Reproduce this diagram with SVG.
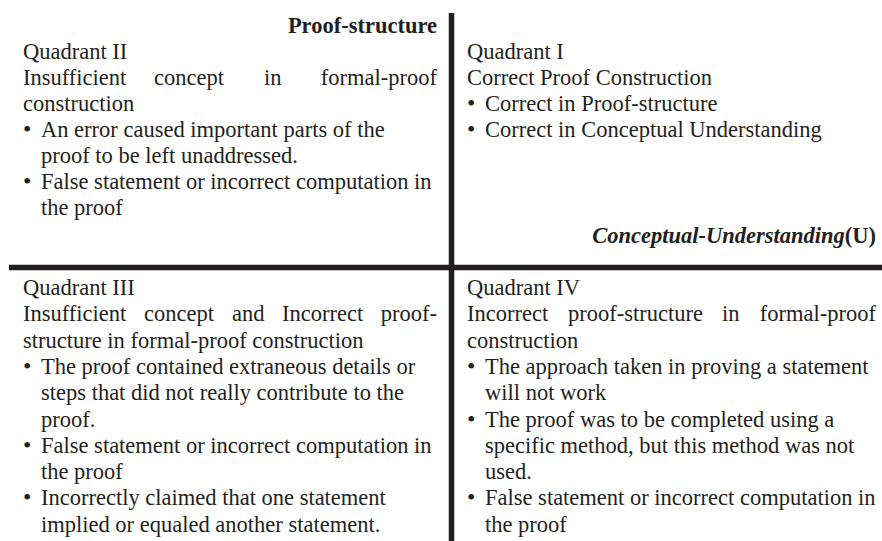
<svg xmlns="http://www.w3.org/2000/svg" width="882" height="541" viewBox="0 0 882 541">
<style>
text{font-family:"Liberation Serif","Times New Roman",serif;font-size:22.5px;fill:#231f20}
.b{font-weight:bold}
.bi{font-weight:bold;font-style:italic}
.e{text-anchor:end}
.bul{font-size:24px}
.axis{stroke:#231f20;stroke-width:5.5;fill:none}
</style>
<rect width="882" height="541" fill="#fff"/>
<g id="axes">
<line class="axis" x1="451.5" y1="13" x2="451.5" y2="541"/>
<line class="axis" x1="9" y1="267.5" x2="882" y2="267.5"/>
</g>
<g id="axis-labels">
<text class="b e" x="437" y="33">Proof-structure</text>
<text class="e" x="876" y="243"><tspan class="bi">Conceptual-Understanding</tspan><tspan class="b">(U)</tspan></text>
</g>
<g id="quadrant-2">
<text x="23" y="59">Quadrant II</text>
<text y="85"><tspan x="23">Insufficient</tspan><tspan x="154">concept</tspan><tspan x="264">in</tspan><tspan x="437" text-anchor="end">formal-proof</tspan></text>
<text x="23" y="111">construction</text>
<text x="23" y="137"><tspan class="bul">•</tspan><tspan x="41">An error caused important parts of the</tspan></text>
<text x="41" y="163">proof to be left unaddressed.</text>
<text x="23" y="189"><tspan class="bul">•</tspan><tspan x="41">False statement or incorrect computation in</tspan></text>
<text x="41" y="215">the proof</text>
</g>
<g id="quadrant-1">
<text x="467" y="59">Quadrant I</text>
<text x="467" y="85">Correct Proof Construction</text>
<text x="467" y="111"><tspan class="bul">•</tspan><tspan x="485">Correct in Proof-structure</tspan></text>
<text x="467" y="137"><tspan class="bul">•</tspan><tspan x="485">Correct in Conceptual Understanding</tspan></text>
</g>
<g id="quadrant-3">
<text x="23" y="295">Quadrant III</text>
<text y="321.3"><tspan x="23">Insufficient</tspan><tspan x="144">concept</tspan><tspan x="232">and</tspan><tspan x="282">Incorrect</tspan><tspan x="437" text-anchor="end">proof-</tspan></text>
<text x="23" y="347.6">structure in formal-proof construction</text>
<text x="23" y="373.9"><tspan class="bul">•</tspan><tspan x="41">The proof contained extraneous details or</tspan></text>
<text x="41" y="400.2">steps that did not really contribute to the</text>
<text x="41" y="426.5">proof.</text>
<text x="23" y="452.8"><tspan class="bul">•</tspan><tspan x="41">False statement or incorrect computation in</tspan></text>
<text x="41" y="479.1">the proof</text>
<text x="23" y="505.4"><tspan class="bul">•</tspan><tspan x="41">Incorrectly claimed that one statement</tspan></text>
<text x="41" y="531.7">implied or equaled another statement.</text>
</g>
<g id="quadrant-4">
<text x="467" y="295">Quadrant IV</text>
<text y="321.3"><tspan x="467">Incorrect</tspan><tspan x="568">proof-structure</tspan><tspan x="722">in</tspan><tspan x="876" text-anchor="end">formal-proof</tspan></text>
<text x="467" y="347.6">construction</text>
<text x="467" y="373.9"><tspan class="bul">•</tspan><tspan x="485">The approach taken in proving a statement</tspan></text>
<text x="485" y="400.2">will not work</text>
<text x="467" y="426.5"><tspan class="bul">•</tspan><tspan x="485">The proof was to be completed using a</tspan></text>
<text x="485" y="452.8">specific method, but this method was not</text>
<text x="485" y="479.1">used.</text>
<text x="467" y="505.4"><tspan class="bul">•</tspan><tspan x="485">False statement or incorrect computation in</tspan></text>
<text x="485" y="531.7">the proof</text>
</g>
</svg>
